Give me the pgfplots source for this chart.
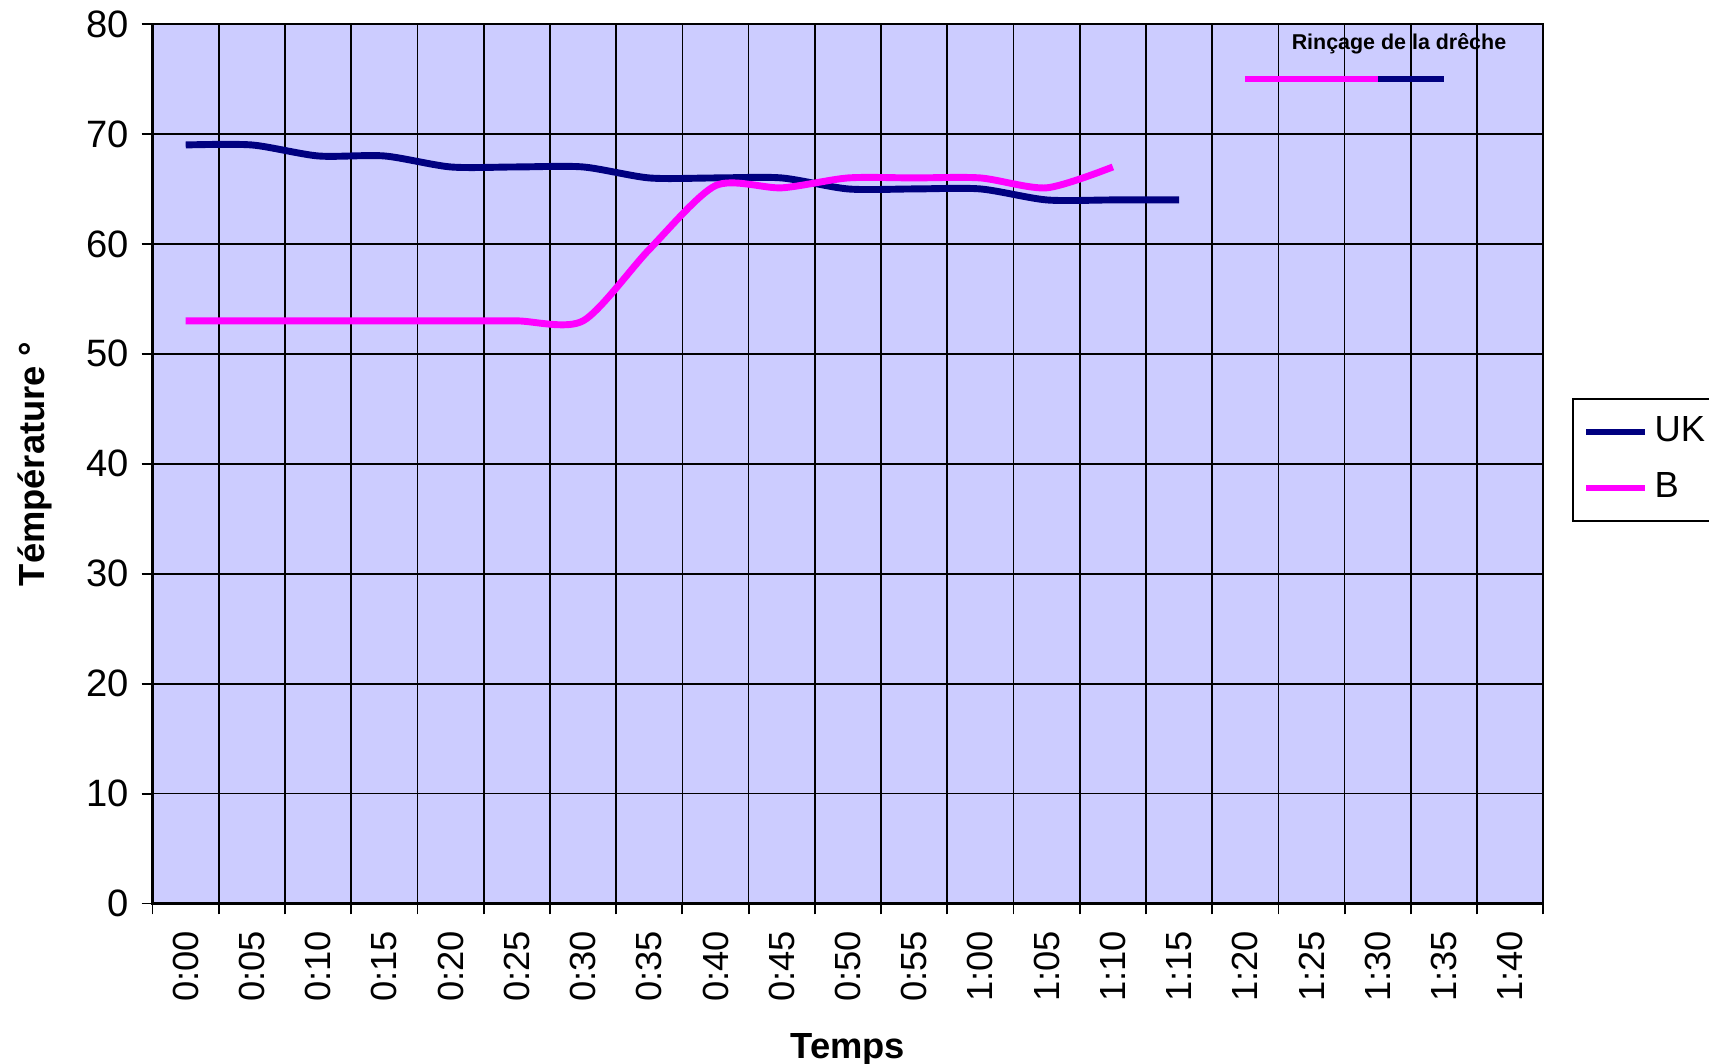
\documentclass[border=0pt]{standalone}
\usepackage{pgfplots}
\pgfplotsset{compat=1.18}
\usepackage{fontspec}
\setmainfont{Liberation Sans}
\definecolor{bgc}{RGB}{204,204,255}
\definecolor{ukc}{RGB}{0,0,128}
\definecolor{bc}{RGB}{255,0,255}
\begin{document}
\begin{tikzpicture}
\begin{axis}[
  scale only axis,
  width=382.8pt, height=242.1pt,
  xmin=-2.5, xmax=102.5, ymin=0, ymax=80,
  axis background/.style={fill=bgc},
  axis line style={black, line width=0.6pt},
  xtick={0,5,...,100},
  xticklabels={0:00,0:05,0:10,0:15,0:20,0:25,0:30,0:35,0:40,0:45,0:50,0:55,1:00,1:05,1:10,1:15,1:20,1:25,1:30,1:35,1:40},
  minor xtick={-2.5,2.5,...,102.5},
  major x tick style={draw=none},
  minor x tick style={black, line width=0.5pt},
  ytick={0,10,...,80},
  y tick style={black, line width=0.5pt},
  tick align=outside,
  major tick length=3pt,
  minor tick length=3pt,
  xtick pos=bottom, ytick pos=left,
  xmajorgrids=false, xminorgrids=true, ymajorgrids=true,
  grid style={black, line width=0.45pt},
  minor grid style={black, line width=0.45pt},
  xticklabel style={rotate=90, anchor=east, font=\fontsize{10}{12}\selectfont, xshift=-1pt},
  yticklabel style={font=\fontsize{10.5}{12}\selectfont},
  /pgf/number format/assume math mode=true,
  xlabel={\bfseries Temps},
  xlabel style={font=\fontsize{10}{12}\selectfont, yshift=-2pt},
  ylabel={\bfseries Témpérature °},
  ylabel style={font=\fontsize{10}{12}\selectfont, yshift=2.5pt},
  legend style={at={(1.0204,0.575)}, anchor=north west, draw=black, line width=0.5pt,
    font=\fontsize{10}{12}\selectfont, row sep=3pt, inner sep=3pt},
  legend cell align=left,
  legend image code/.code={\draw[#1, line width=1.6pt] (0pt,0pt) -- (16pt,0pt);},
  clip=false,
]
\addplot[ukc, line width=1.9pt, smooth, tension=0.45] coordinates {
(0,69) (5,69) (10,68) (15,68) (20,67) (25,67) (30,67) (35,66) (40,66) (45,66)
(50,65) (55,65) (60,65) (65,64) (70,64) (75,64)};
\addlegendentry{UK}
\addplot[ukc, line width=1.9pt, forget plot] coordinates {(80,75) (85,75) (90,75) (95,75)};
\addplot[bc, line width=1.9pt, smooth, tension=0.45] coordinates {
(0,53) (5,53) (10,53) (15,53) (20,53) (25,53) (30,53) (35,59.5) (40,65.3) (45,65.1)
(50,66) (55,66) (60,66) (65,65.1) (70,67)};
\addlegendentry{B}
\addplot[bc, line width=1.9pt, forget plot] coordinates {(80,75) (85,75) (90,75)};
\node[font=\bfseries\fontsize{5.9}{7}\selectfont] at (axis cs:91.6,78.2) {Rinçage de la drêche};
\end{axis}
\pgfresetboundingbox
\path[use as bounding box] (-42pt,-44.1pt) rectangle (428.4pt,248.7pt);
\end{tikzpicture}
\end{document}
